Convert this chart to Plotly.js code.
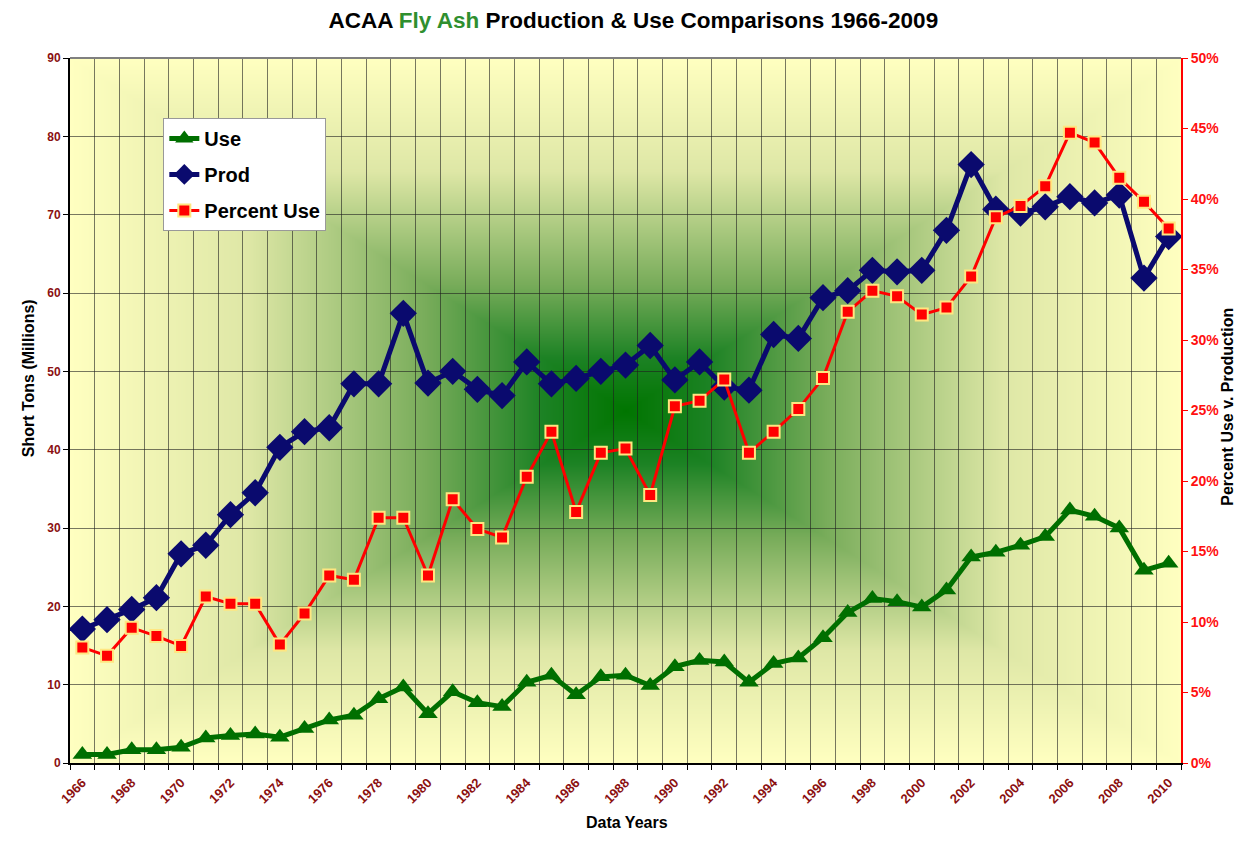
<!DOCTYPE html>
<html>
<head>
<meta charset="utf-8">
<script src="https://cdn.plot.ly/plotly-3.0.1.min.js"></script>
<style>
  html, body { margin: 0; padding: 0; background: #fff; }
  #plot01 { width: 1244px; height: 844px; }
</style>
</head>
<body>
<div id="plot01"></div>
<script>
const years = [];
for (let y = 1966; y <= 2010; y++) years.push(y);

const useTons = [1.1, 1.1, 1.7, 1.7, 2.0, 3.2, 3.5, 3.7, 3.3, 4.4,
                 5.5, 6.1, 8.2, 9.7, 6.3, 9.1, 7.7, 7.2, 10.3, 11.2,
                 8.7, 11.0, 11.2, 9.9, 12.3, 13.1, 12.9, 10.3, 12.7, 13.4,
                 16.0, 19.2, 21.0, 20.6, 19.9, 22.1, 26.3, 26.9, 27.8, 28.9,
                 32.3, 31.5, 30.0, 24.6, 25.5];

const prodTons = [17.1, 18.3, 19.6, 21.1, 26.7, 27.8, 31.7, 34.5, 40.3, 42.3,
                  42.8, 48.4, 48.4, 57.4, 48.5, 50.0, 47.7, 46.9, 51.2, 48.4,
                  49.1, 50.0, 50.8, 53.3, 48.9, 51.2, 48.0, 47.6, 54.7, 54.2,
                  59.4, 60.3, 62.9, 62.7, 62.9, 68.0, 76.4, 70.7, 70.2, 71.0,
                  72.3, 71.5, 72.5, 61.9, 67.2];

const percentUse = [8.2, 7.6, 9.6, 9.0, 8.3, 11.8, 11.3, 11.3, 8.4, 10.6,
                    13.3, 13.0, 17.4, 17.4, 13.3, 18.7, 16.6, 16.0, 20.3, 23.5,
                    17.8, 22.0, 22.3, 19.0, 25.3, 25.7, 27.2, 22.0, 23.5, 25.1,
                    27.3, 32.0, 33.5, 33.1, 31.8, 32.3, 34.5, 38.7, 39.5, 40.9,
                    44.7, 44.0, 41.5, 39.8, 37.9];

const yearTicks = years.filter(y => y % 2 === 0);

// rectangular "from centre" fill like the spreadsheet chart area
function gradientImage(w, h) {
    const stops = [
        [0.00, [0, 117, 0]],
        [0.15, [28, 130, 36]],
        [0.36, [120, 172, 90]],
        [0.68, [222, 231, 166]],
        [1.00, [255, 255, 192]]
    ];
    const cv = document.createElement('canvas');
    cv.width = w; cv.height = h;
    const ctx = cv.getContext('2d');
    const img = ctx.createImageData(w, h);
    const cx = w / 2, cy = h / 2;
    for (let j = 0; j < h; j++) {
        for (let i = 0; i < w; i++) {
            const t = Math.min(1, Math.max(Math.abs(i - cx) / cx, Math.abs(j - cy) / cy));
            let k = 0;
            while (k < stops.length - 2 && t > stops[k + 1][0]) k++;
            const a = stops[k], b = stops[k + 1];
            const f = (t - a[0]) / (b[0] - a[0]);
            const p = (j * w + i) * 4;
            for (let c = 0; c < 3; c++) img.data[p + c] = Math.round(a[1][c] + (b[1][c] - a[1][c]) * f);
            img.data[p + 3] = 255;
        }
    }
    ctx.putImageData(img, 0, 0);
    return cv.toDataURL('image/png');
}

const margin = { l: 70, r: 63, t: 58, b: 81 };
const W = 1244, H = 844;
const fontFamily = 'Liberation Sans, Arial, sans-serif';
const gridColor = 'rgba(30,30,30,0.6)';
const axisTitleFont = { size: 16, weight: 'bold', color: '#000' };

const data = [
    {
        type: 'scatter', mode: 'lines+markers', name: 'Use', legendgroup: 'a',
        x: years, y: useTons, yaxis: 'y',
        line: { color: '#006F00', width: 5 },
        marker: { symbol: 'triangle-up', size: 17, color: '#006F00' }
    },
    {
        type: 'scatter', mode: 'lines+markers', name: 'Prod', legendgroup: 'b',
        x: years, y: prodTons, yaxis: 'y',
        line: { color: '#0A0A6E', width: 5 },
        marker: { symbol: 'diamond', size: 21, color: '#0A0A6E' }
    },
    {
        type: 'scatter', mode: 'lines+markers', name: 'Percent Use', legendgroup: 'c',
        x: years, y: percentUse, yaxis: 'y2',
        line: { color: '#FF0000', width: 3 },
        marker: { symbol: 'square', size: 12, color: '#FF0000', line: { color: '#FFE680', width: 2 } }
    }
];

const layout = {
    width: W, height: H,
    margin: margin,
    paper_bgcolor: 'white',
    plot_bgcolor: 'rgba(0,0,0,0)',
    font: { family: fontFamily, color: '#000' },
    title: {
        text: 'ACAA <span style="color:#2F8F2F">Fly Ash</span> Production & Use Comparisons 1966-2009',
        font: { size: 22.5, weight: 'bold', color: '#000' },
        x: 0.507, xref: 'paper', xanchor: 'center',
        y: 0.976, yanchor: 'middle'
    },
    showlegend: true,
    legend: {
        x: 0.084, y: 0.915, xanchor: 'left', yanchor: 'top',
        bgcolor: 'white', bordercolor: '#999', borderwidth: 1,
        font: { size: 20, weight: 'bold', color: '#000' },
        traceorder: 'grouped', tracegroupgap: 7
    },
    xaxis: {
        range: [1965.5, 2010.5],
        tickmode: 'array', tickvals: yearTicks,
        tickangle: -45,
        tickfont: { size: 13, weight: 'bold', color: '#8B1010' },
        ticklabelstandoff: 5,
        ticks: '', showgrid: false, zeroline: false,
        showline: true, linecolor: '#000', linewidth: 2,
        minor: {
            tickmode: 'linear', tick0: 1965.5, dtick: 1,
            showgrid: true, gridcolor: gridColor, gridwidth: 1,
            ticks: 'outside', ticklen: 5, tickcolor: '#000'
        }
    },
    yaxis: {
        range: [0, 90], dtick: 10,
        showgrid: true, gridcolor: gridColor, gridwidth: 1,
        zeroline: false,
        showline: true, linecolor: '#000', linewidth: 2,
        ticks: 'outside', ticklen: 5, tickcolor: '#000',
        tickfont: { size: 12, weight: 'bold', color: '#8B1010' }
    },
    yaxis2: {
        overlaying: 'y', side: 'right',
        range: [0, 50], dtick: 5, ticksuffix: '%',
        showgrid: false, zeroline: false,
        showline: true, linecolor: '#FF0000', linewidth: 2,
        ticks: 'outside', ticklen: 5, tickcolor: '#FF0000',
        tickfont: { size: 14, weight: 'bold', color: '#FF1010' }
    },
    annotations: [
        { text: 'Short Tons (Millions)', xref: 'paper', yref: 'paper', x: -0.0468, y: 0.545,
          textangle: -90, showarrow: false, font: axisTitleFont },
        { text: 'Percent Use v. Production', xref: 'paper', yref: 'paper', x: 1.0513, y: 0.506,
          textangle: -90, showarrow: false, font: axisTitleFont },
        { text: 'Data Years', xref: 'paper', yref: 'paper', x: 0.501, y: -0.0993,
          showarrow: false, font: axisTitleFont }
    ],
    images: [{
        source: gradientImage(W - margin.l - margin.r, H - margin.t - margin.b),
        xref: 'paper', yref: 'paper', x: 0, y: 1, sizex: 1, sizey: 1,
        xanchor: 'left', yanchor: 'top', sizing: 'stretch', layer: 'below'
    }],
    shapes: [{
        type: 'line', xref: 'paper', yref: 'paper', x0: 0, x1: 1, y0: 1, y1: 1,
        line: { color: '#808080', width: 2 }
    }]
};

const config = { displayModeBar: false, responsive: false, staticPlot: true };

Plotly.newPlot('plot01', data, layout, config);
</script>
</body>
</html>
